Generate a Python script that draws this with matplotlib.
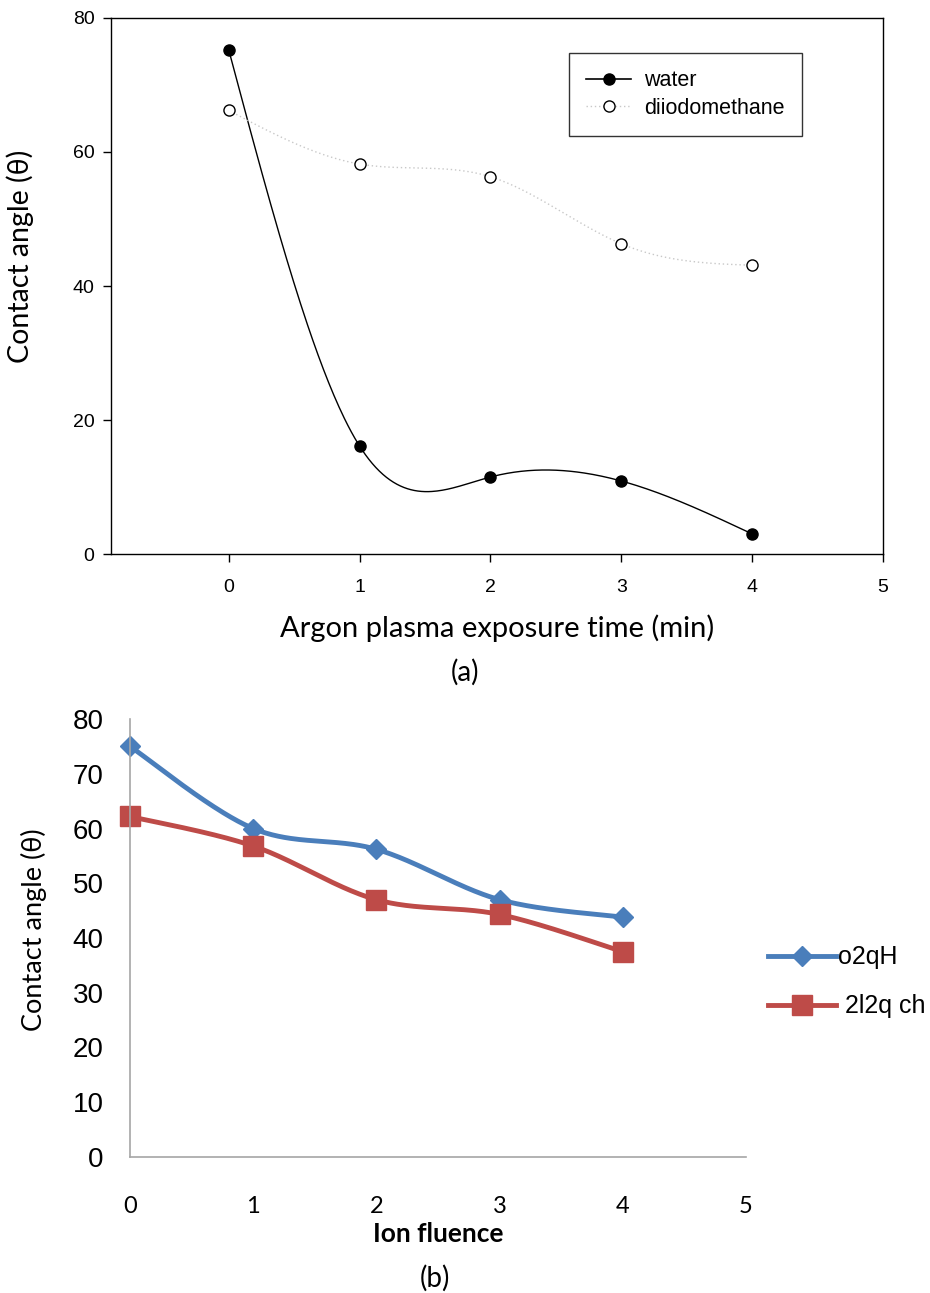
"""Contact angle vs. argon plasma exposure time / ion fluence, two stacked panels."""
import numpy as np
import matplotlib
matplotlib.use("Agg")
import matplotlib.pyplot as plt

# Panel (a) data
time_min = [0, 1, 2, 3, 4]
water = [75.2, 16.1, 11.5, 10.9, 3.0]
diiodomethane = [66.2, 58.2, 56.3, 46.3, 43.1]

# Panel (b) data
fluence = [0, 1, 2, 3, 4]
o2qh = [75.0, 60.0, 56.2, 47.0, 43.8]
l2q_ch = [62.2, 56.8, 47.0, 44.3, 37.5]


def natural_spline(x, y, n=300):
    """Natural cubic spline through the points (SigmaPlot style smoothing)."""
    x = np.asarray(x, float)
    y = np.asarray(y, float)
    m = len(x)
    h = np.diff(x)
    A = np.zeros((m, m))
    r = np.zeros(m)
    A[0, 0] = A[-1, -1] = 1
    for i in range(1, m - 1):
        A[i, i - 1] = h[i - 1]
        A[i, i] = 2 * (h[i - 1] + h[i])
        A[i, i + 1] = h[i]
        r[i] = 6 * ((y[i + 1] - y[i]) / h[i] - (y[i] - y[i - 1]) / h[i - 1])
    M = np.linalg.solve(A, r)
    xs = np.linspace(x[0], x[-1], n)
    idx = np.clip(np.searchsorted(x, xs) - 1, 0, m - 2)
    x0, x1 = x[idx], x[idx + 1]
    hh = x1 - x0
    ys = (M[idx] * (x1 - xs) ** 3 / (6 * hh) + M[idx + 1] * (xs - x0) ** 3 / (6 * hh)
          + (y[idx] / hh - M[idx] * hh / 6) * (x1 - xs)
          + (y[idx + 1] / hh - M[idx + 1] * hh / 6) * (xs - x0))
    return xs, ys


def catmull_rom(x, y, n=60):
    """Excel-like smoothed line through the points."""
    p = np.column_stack([x, y]).astype(float)
    p = np.vstack([p[0], p, p[-1]])
    out = []
    t = np.linspace(0, 1, n)[:, None]
    for i in range(1, len(p) - 2):
        p0, p1, p2, p3 = p[i - 1], p[i], p[i + 1], p[i + 2]
        seg = 0.5 * ((2 * p1) + (-p0 + p2) * t + (2 * p0 - 5 * p1 + 4 * p2 - p3) * t ** 2
                     + (-p0 + 3 * p1 - 3 * p2 + p3) * t ** 3)
        out.append(seg)
    out = np.vstack(out)
    return out[:, 0], out[:, 1]


fig = plt.figure(figsize=(9.3, 12.93), dpi=100)

# ---------------- panel (a) ----------------
ax1 = fig.add_axes([0.1194, 0.5715, 0.8301, 0.4146])
xs, ys = natural_spline(time_min, water)
ax1.plot(xs, ys, color="black", lw=1.0)
ax1.plot(time_min, water, "o", color="black", ms=8, ls="none")
xs, ys = natural_spline(time_min, diiodomethane)
ax1.plot(xs, ys, color="#c8c8c8", lw=1.0, ls=(0, (1, 2)))
ax1.plot(time_min, diiodomethane, "o", mfc="white", mec="black", mew=1.0, ms=8, ls="none")

h1 = plt.Line2D([], [], color="black", lw=1.2, marker="o", ms=8)
h2 = plt.Line2D([], [], color="#c8c8c8", lw=1.0, ls=(0, (1, 2)), marker="o",
                mfc="white", mec="black", ms=8)
leg = ax1.legend([h1, h2], ["water", "diiodomethane"], loc="upper left",
                 bbox_to_anchor=(0.593, 0.9345), frameon=True, fancybox=False,
                 edgecolor="black", handlelength=2.1, handletextpad=0.6,
                 borderpad=0.8, labelspacing=0.3, borderaxespad=0,
                 prop={"family": "Liberation Sans", "size": 15.5})
leg.get_frame().set_linewidth(1.0)

ax1.set_xlim(-0.9, 5)
ax1.set_ylim(0, 80)
ax1.set_xticks([0, 1, 2, 3, 4, 5])
ax1.set_yticks([0, 20, 40, 60, 80])
for s in ax1.spines.values():
    s.set_linewidth(1.0)
ax1.tick_params(direction="out", length=6, width=1.0, labelsize=14, pad=12)
ax1.tick_params(axis="y", pad=6)
for lab in ax1.get_xticklabels() + ax1.get_yticklabels():
    lab.set_fontfamily("Liberation Sans")
ax1.set_xlabel("Argon plasma exposure time (min)", fontsize=21, family="Lato", labelpad=13)
ax1.set_ylabel("Contact angle (\u03b8)", fontsize=20.5, family="Lato")
ax1.yaxis.set_label_coords(-0.1, 0.556)
fig.text(0.5, 1 - 672 / 1293, "(a)", ha="center", va="center", fontsize=20, family="Lato")

# ---------------- panel (b) ----------------
blue = "#4a7ebb"
red = "#be4b48"
ax2 = fig.add_axes([0.1398, 0.1052, 0.6624, 0.3387])
xs, ys = catmull_rom(fluence, o2qh)
ax2.plot(xs, ys, color=blue, lw=3.5, solid_capstyle="round", clip_on=False)
ax2.plot(fluence, o2qh, "D", color=blue, ms=10, ls="none", clip_on=False)
xs, ys = catmull_rom(fluence, l2q_ch)
ax2.plot(xs, ys, color=red, lw=3.5, solid_capstyle="round", clip_on=False)
ax2.plot(fluence, l2q_ch, "s", color=red, ms=14, ls="none", clip_on=False)

ax2.set_xlim(0, 5)
ax2.set_ylim(0, 80)
ax2.set_xticks([0, 1, 2, 3, 4, 5])
ax2.set_yticks(range(0, 81, 10))
ax2.spines["top"].set_visible(False)
ax2.spines["right"].set_visible(False)
for s in ["left", "bottom"]:
    ax2.spines[s].set_color("#a6a6a6")
    ax2.spines[s].set_linewidth(1.2)
ax2.tick_params(length=0)
ax2.tick_params(axis="x", pad=28, labelsize=17)
ax2.tick_params(axis="y", pad=19, labelsize=20)
for lab in ax2.get_xticklabels():
    lab.set_fontfamily("Lato")
for lab in ax2.get_yticklabels():
    lab.set_fontfamily("Liberation Sans")
ax2.set_xlabel("Ion fluence", fontsize=19, family="Lato", fontweight="bold", labelpad=4)
ax2.set_ylabel("Contact angle (\u03b8)", fontsize=19.5, family="Lato")
ax2.yaxis.set_label_coords(-0.135, 0.518)

hb = plt.Line2D([], [], color=blue, lw=3.5, marker="D", ms=10)
hr = plt.Line2D([], [], color=red, lw=3.5, marker="s", ms=14)
ax2.legend([hb, hr], ["o2qH", " 2l2q ch"], loc="center left",
           bbox_to_anchor=(1.0, 0.40), frameon=False, handlelength=2.7,
           labelspacing=1.0, handletextpad=0.1, borderaxespad=0.48, borderpad=0.4,
           prop={"family": "Liberation Sans", "size": 18})
fig.text(0.468, 1 - 1278 / 1293, "(b)", ha="center", va="center", fontsize=20, family="Lato")

fig.savefig("out.png", dpi=100)
